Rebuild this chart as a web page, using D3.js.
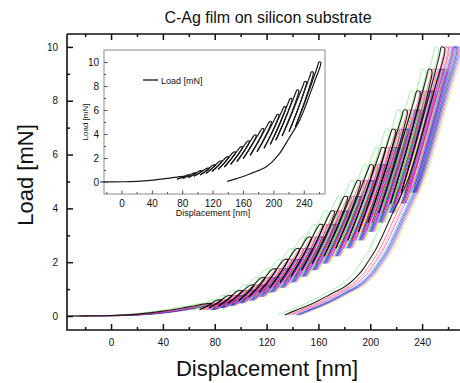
<!DOCTYPE html>
<html><head><meta charset="utf-8">
<script src="https://cdn.jsdelivr.net/npm/d3@7"></script>
<style>
body{margin:0;background:#fff}
svg{display:block}
text{font-family:"Liberation Sans",Arial,sans-serif;fill:#111}
</style>
</head><body>
<svg id="chart" width="460" height="383"></svg>
<script>
// Peak load of each partial-unload cycle (mN) and the displacement (nm) at which the reference test reaches it
const peakLoad = [0.47,0.60,0.76,0.95,1.15,1.43,1.75,2.10,2.50,2.93,3.40,3.90,4.44,5.03,5.62,6.26,6.94,7.66,8.36,9.17,10.0];
const peakDisp = [75,83,91,99,108,116.5,125,134,143,152,161,170,180,190,200,209,217,226,236,245,255];
// displacement reached when each partial unload ends at half of its peak load
const loopEndDisp = [68.3,75.6,83.0,90.3,98.5,106.3,114.1,122.3,130.5,138.8,147.0,155.2,164.4,173.5,182.7,190.9,198.2,206.5,215.6,223.9];
// first loading branch before the cycles begin
const virginDisp = [-33,-20,0,20,40,55,65,71];
const virginLoad = [0,0.005,0.02,0.07,0.18,0.30,0.38,0.44];
// final unload from 10 mN down to zero
const finalDisp = [257.5,250,243,236,229,222,216,210,204,198,192,186,180,172,166,158,150,142,134];
const finalLoad = [9.95,8.5,7.3,6.1,5.06,4.3,3.69,3.05,2.45,2.0,1.59,1.3,1.08,0.88,0.72,0.52,0.35,0.2,0.04];
// the individual indents: line colour and displacement shift (nm)
const testColors = ["#f0d000","#8080ff","#0000ff","#8000c0","#000080","#00b8b8","#ff80a0","#ff00ff","#ff0000","#50e050","#000000"];
const testShift  = [13,12,10,11,9,8,5,6,3,-5,0];
// the single test shown in the inset
const insetShift = 5;

// axis ticks
const mainXMajor = [0,40,80,120,160,200,240];
const mainXMinor = [-20,20,60,100,140,180,220,260];
const mainYMajor = [0,2,4,6,8,10];
const mainYMinor = [1,3,5,7,9];
const insetXMajor = [0,40,80,120,160,200,240];
const insetXMinor = [-20,20,60,100,140,180,220,260];
const insetYMajor = [0,2,4,6,8,10];
const insetYMinor = [1,3,5,7,9];

const svg = d3.select("#chart");

const x = d3.scaleLinear().domain([-34, 270]).range([67, 461]);
const y = d3.scaleLinear().domain([-0.52, 10.48]).range([330, 34]);

// build the load-displacement path of one test, split at every unload end
function segments(s) {
  const segs = [];
  let pts = virginDisp.map((d, i) => [d + s, virginLoad[i]]);
  for (let i = 0; i < peakLoad.length; i++) {
    const P = peakLoad[i], h = peakDisp[i] + s, top = h + 2.5;
    pts.push([h - 1.8, P * 0.965]);
    pts.push([h, P]);
    pts.push([top, P * 0.995]);
    if (i < loopEndDisp.length) {
      const e = loopEndDisp[i] + s, d = top - e;
      pts.push([top - 0.1 * d, P * 0.92]);
      pts.push([top - 0.5 * d, P * 0.72]);
      pts.push([e, P * 0.5]);
      segs.push(pts);
      const nh = peakDisp[i + 1] + s - 1.8, nP = peakLoad[i + 1] * 0.965;
      const mP = P * 0.5 + (nP - P * 0.5) * 0.4;
      const mx = e + (nh - e) * 0.4 + 0.6;
      pts = [[e, P * 0.5], [mx, mP]];
    } else {
      for (let k = 1; k < finalDisp.length; k++) pts.push([finalDisp[k] + s, finalLoad[k]]);
      segs.push(pts);
    }
  }
  return segs;
}

svg.append("defs").append("clipPath").attr("id", "plotClip")
  .append("rect").attr("x", 67).attr("y", 34).attr("width", 394).attr("height", 296);

const mainLine = d3.line().x(d => x(d[0])).y(d => y(d[1])).curve(d3.curveCatmullRom.alpha(0.5));
const dataG = svg.append("g").attr("clip-path", "url(#plotClip)");
testColors.forEach((c, k) => {
  dataG.append("g").selectAll("path").data(segments(testShift[k])).join("path")
    .attr("d", mainLine).attr("fill", "none").attr("stroke", c)
    .attr("stroke-width", c === "#000000" ? 1.1 : 0.9)
    .attr("stroke-opacity", c === "#000000" ? 0.85 : 0.55);
});

// main axes with inward ticks
function drawAxis(g, axis) { g.call(axis); g.select(".domain").remove(); }
const ax = svg.append("g").attr("font-size", 17);
const bx = ax.append("g").attr("transform", "translate(0,330)");
drawAxis(bx.append("g"), d3.axisBottom(x).tickValues(mainXMajor).tickSize(-6).tickPadding(9).tickFormat(d3.format("d")));
drawAxis(bx.append("g"), d3.axisBottom(x).tickValues(mainXMinor).tickSize(-3).tickFormat(""));
const tx = ax.append("g").attr("transform", "translate(0,34)");
drawAxis(tx.append("g"), d3.axisTop(x).tickValues(mainXMajor).tickSize(-6).tickFormat(""));
drawAxis(tx.append("g"), d3.axisTop(x).tickValues(mainXMinor).tickSize(-3).tickFormat(""));
const ly = ax.append("g").attr("transform", "translate(67,0)");
drawAxis(ly.append("g"), d3.axisLeft(y).tickValues(mainYMajor).tickSize(-6).tickPadding(9).tickFormat(d3.format("d")));
drawAxis(ly.append("g"), d3.axisLeft(y).tickValues(mainYMinor).tickSize(-3).tickFormat(""));
ax.selectAll("text").attr("fill", "#111").attr("font-family", "Liberation Sans, Arial, sans-serif");
ax.selectAll(".tick line").attr("stroke", "#111").attr("stroke-width", 1.5);
svg.append("path").attr("d", "M67,34V330H461M67,34H461")
  .attr("fill", "none").attr("stroke", "#111").attr("stroke-width", 1.6);

svg.append("text").attr("x", 268).attr("y", 23).attr("text-anchor", "middle")
  .attr("font-size", 16).text("C-Ag film on silicon substrate");
svg.append("text").attr("x", 267).attr("y", 376).attr("text-anchor", "middle")
  .attr("font-size", 22).text("Displacement [nm]");
svg.append("text").attr("transform", "translate(33,175) rotate(-90)").attr("text-anchor", "middle")
  .attr("font-size", 22).text("Load [mN]");

// inset with a single test
const ix = d3.scaleLinear().domain([-23, 268]).range([104, 325]);
const iy = d3.scaleLinear().domain([-1, 11]).range([194, 50]);
const inset = svg.append("g");
inset.append("rect").attr("x", 104).attr("y", 50).attr("width", 221).attr("height", 144)
  .attr("fill", "#fff").attr("stroke", "#8a8a8a").attr("stroke-width", 1);
const insetLine = d3.line().x(d => ix(d[0])).y(d => iy(d[1])).curve(d3.curveCatmullRom.alpha(0.5));
inset.append("g").selectAll("path").data(segments(insetShift)).join("path")
  .attr("d", insetLine).attr("fill", "none").attr("stroke", "#1a1a1a").attr("stroke-width", 1.2);

const iax = inset.append("g").attr("font-size", 8.5);
const ibx = iax.append("g").attr("transform", "translate(0,194)");
drawAxis(ibx.append("g"), d3.axisBottom(ix).tickValues(insetXMajor).tickSize(-3.5).tickPadding(6).tickFormat(d3.format("d")));
drawAxis(ibx.append("g"), d3.axisBottom(ix).tickValues(insetXMinor).tickSize(-2).tickFormat(""));
const ily = iax.append("g").attr("transform", "translate(104,0)");
drawAxis(ily.append("g"), d3.axisLeft(iy).tickValues(insetYMajor).tickSize(-3.5).tickPadding(5).tickFormat(d3.format("d")));
drawAxis(ily.append("g"), d3.axisLeft(iy).tickValues(insetYMinor).tickSize(-2).tickFormat(""));
iax.selectAll("text").attr("fill", "#333").attr("font-family", "Liberation Sans, Arial, sans-serif");
iax.selectAll(".tick line").attr("stroke", "#555");
inset.append("text").attr("x", 213).attr("y", 216).attr("text-anchor", "middle")
  .attr("font-size", 9).attr("fill", "#333").text("Displacement [nm]");
inset.append("text").attr("transform", "translate(88,122) rotate(-90)").attr("text-anchor", "middle")
  .attr("font-size", 8).attr("fill", "#333").text("Load [mN]");
// legend
inset.append("line").attr("x1", 143).attr("x2", 158).attr("y1", 80).attr("y2", 80)
  .attr("stroke", "#1a1a1a").attr("stroke-width", 1.3);
inset.append("text").attr("x", 161).attr("y", 83.5).attr("font-size", 9).attr("fill", "#333").text("Load [mN]");
</script>
</body></html>
